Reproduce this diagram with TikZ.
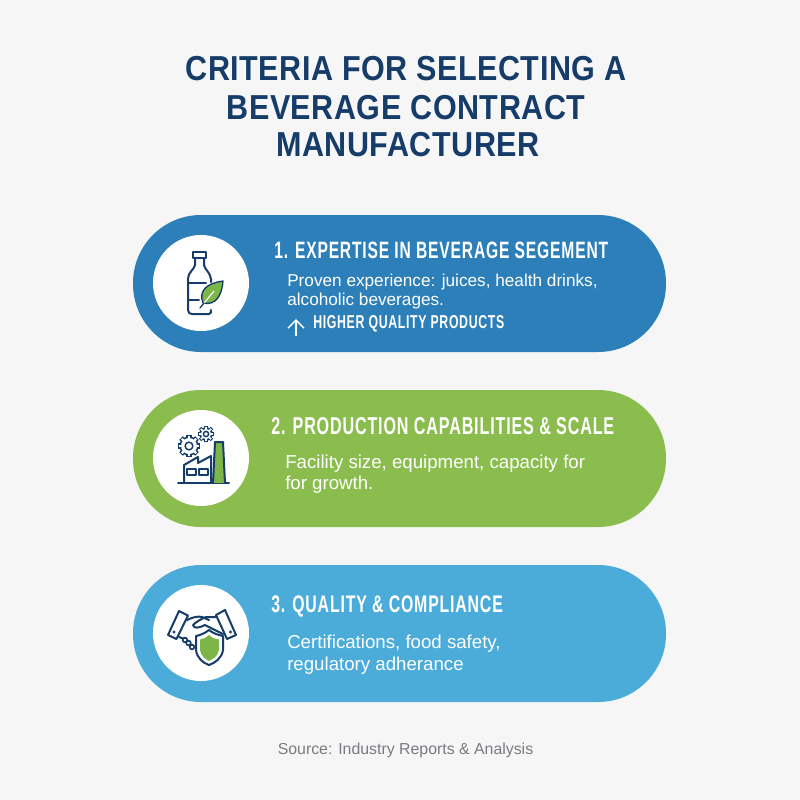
\documentclass[tikz,border=0pt]{standalone}
\usepackage{fontspec}
\setmainfont{Liberation Sans}
\newfontfamily\titlefont[FakeStretch=0.88,LetterSpace=1.5]{Liberation Sans}
\newfontfamily\headfont[FakeStretch=0.66,LetterSpace=3.5]{Liberation Sans}
\usetikzlibrary{arrows.meta}
\definecolor{navy}{RGB}{22,60,105}
\definecolor{pageback}{RGB}{246,246,246}
\definecolor{pillblue}{RGB}{45,127,185}
\definecolor{pillgreen}{RGB}{139,189,78}
\definecolor{pillsky}{RGB}{75,172,218}
\definecolor{leafgreen}{RGB}{125,182,72}
\definecolor{sourcegrey}{RGB}{120,124,128}
\tikzset{
  pill/.style={rounded corners=51pt},
  iconline/.style={draw=navy,line width=1.5pt,line join=round,line cap=round},
  titletext/.style={text=navy,font=\titlefont\fontsize{26pt}{29pt}\selectfont\bfseries,inner sep=0pt},
  headtext/.style={anchor=west,text=white,font=\headfont\fontsize{18pt}{20pt}\selectfont\bfseries,inner sep=0pt},
  bodytext/.style={anchor=west,text=white,font=\fontsize{14pt}{16pt}\selectfont,inner sep=0pt},
  bodysmall/.style={bodytext,font=\fontsize{12.9pt}{15pt}\selectfont},
  tagtext/.style={anchor=west,text=white,font=\headfont\fontsize{14pt}{15pt}\selectfont\bfseries,inner sep=0pt},
}
\begin{document}
\begin{tikzpicture}[x=0.75pt,y=0.75pt,yscale=-1,xscale=1]
\useasboundingbox (0,0) rectangle (800,800);
\fill [pageback] (0,0) rectangle (800,800);
% Title
\node [titletext] (title1) at (406,69) {CRITERIA FOR SELECTING A};
\node [titletext] (title2) at (406,108) {BEVERAGE CONTRACT};
\node [titletext] (title3) at (408,145) {MANUFACTURER};
% Pills
\fill [pillblue,pill] (133,215) rectangle (666,352);
\fill [pillgreen,pill] (133,390) rectangle (666,527);
\fill [pillsky,pill] (133,565) rectangle (666,702);
% White discs
\foreach \cy in {283,458,633} {
  \fill [white] (201,\cy) circle [radius=48];
}
% Bottle
\draw [iconline] (193,252) -- (206,252) -- (206,258) -- (193,258) -- cycle;
\draw [iconline] (195,258) -- (195,265) .. controls (194,270) and (188,272) .. (188,279) -- (188,310) .. controls (188,313) and (190,314) .. (192,314) -- (209,314) .. controls (211,314) and (211,312) .. (211,310);
\draw [iconline] (204,258) -- (204,265) .. controls (205,270) and (210,272) .. (211,279) -- (211,282);
\draw [iconline] (188,283) -- (206,283);
\draw [iconline] (188,300) -- (199,300);
\draw [iconline,fill=leafgreen,line width=1pt] (203,303) .. controls (198,290) and (208,283) .. (223,281) .. controls (222,295) and (216,306) .. (203,303) -- cycle;
\draw [white,line width=0.8pt] (200,308) -- (214,291);
\draw [navy,line width=1pt,line cap=round] (200,308) -- (204,303);
% Factory
\draw [iconline] (178,483) -- (229,483);
\draw [iconline,fill=leafgreen] (213,483) -- (215,442) -- (223,442) -- (225,483);
\draw [iconline] (184,483) -- (184,465) -- (198,457) -- (198,463) -- (211,456) -- (211,483);
\draw [iconline,line width=1.3pt] (187,469) rectangle (196,475);
\draw [iconline,line width=1.3pt] (199,469) rectangle (208,475);
% Gears
\foreach \gx/\gy/\gr in {189/446/8.6,206/434/5.8} {
  \foreach \ang in {0,45,...,315} {
    \draw [navy,line width=0.44*\gr pt] (\gx,\gy) -- ++(\ang:\gr+2.6);
  }
  \fill [navy] (\gx,\gy) circle [radius=\gr+1];
  \foreach \ang in {0,45,...,315} {
    \draw [white,line width=0.19*\gr pt] (\gx,\gy) -- ++(\ang:\gr+1.6);
  }
  \fill [white] (\gx,\gy) circle [radius=\gr-0.6];
  \draw [iconline,line width=1.1pt] (\gx,\gy) circle [radius=0.45*\gr];
}
% Handshake cuffs
\draw [iconline] (179,611) -- (188,615.5) -- (176.5,639) -- (168,635) -- cycle;
\draw [iconline] (225,610) -- (236,635) -- (227,639) -- (216,615) -- cycle;
\fill [navy] (174,632) circle [radius=1.6];
\fill [navy] (230.5,632) circle [radius=1.6];
% Handshake hands
\draw [iconline] (187,620) .. controls (193,617) and (198,616) .. (202,617) -- (209,620);
\draw [iconline] (217,617) -- (206,617) .. controls (201,619) and (196,622) .. (193,625) .. controls (194,629) and (199,628) .. (205,625) -- (223,634);
\draw [iconline] (179,637) -- (187,640);
\foreach \fx/\fy in {185/640,188.5/643,192/647} {
  \draw [iconline,line width=1.3pt,fill=white] (\fx,\fy) circle [radius=2.3];
}
% Shield
\draw [iconline,fill=white] (209,630) .. controls (204,634) and (200,635) .. (196,636) -- (196,650) .. controls (197,658) and (203,663) .. (209,665) .. controls (215,663) and (222,658) .. (223,650) -- (223,636) .. controls (219,635) and (214,634) .. (209,630) -- cycle;
\fill [leafgreen] (209,635) .. controls (206,638) and (203,639) .. (200,639.5) -- (200,650) .. controls (201,656) and (205,659) .. (209,661) .. controls (213,659) and (218,656) .. (219,650) -- (219,639.5) .. controls (215,639) and (212,638) .. (209,635) -- cycle;
% Text of first pill
\node [headtext] (head1) at (274,250) {\fontsize{17.75pt}{20pt}\selectfont 1. EXPERTISE IN BEVERAGE SEGEMENT};
\node [bodysmall] (body1a) at (287,282) {Proven experience: juices, health drinks,};
\node [bodysmall] (body1b) at (287,301) {alcoholic beverages.};
\coordinate (up1a) at (296,336);
\coordinate (up1b) at (296,319);
\draw [white,line width=1.1pt,-{Straight Barb[length=6pt,width=12pt]}] (up1a) -- (up1b);
\node [tagtext] (tag1) at (313,324) {HIGHER QUALITY PRODUCTS};
% Text of second pill
\node [headtext] (head2) at (271,426) {\fontsize{18.3pt}{20pt}\selectfont 2. PRODUCTION CAPABILITIES \& SCALE};
\node [bodytext] (body2a) at (285,464) {Facility size, equipment, capacity for};
\node [bodytext] (body2b) at (285,485) {for growth.};
% Text of third pill
\node [headtext] (head3) at (271,606) {3. QUALITY \& COMPLIANCE};
\node [bodytext] (body3a) at (287,644) {Certifications, food safety,};
\node [bodytext] (body3b) at (287,666) {regulatory adherance};
% Source
\node [text=sourcegrey,font=\fontsize{11.9pt}{14pt}\selectfont,inner sep=0pt] (source) at (405.5,750) {Source: Industry Reports \& Analysis};
\end{tikzpicture}
\end{document}
